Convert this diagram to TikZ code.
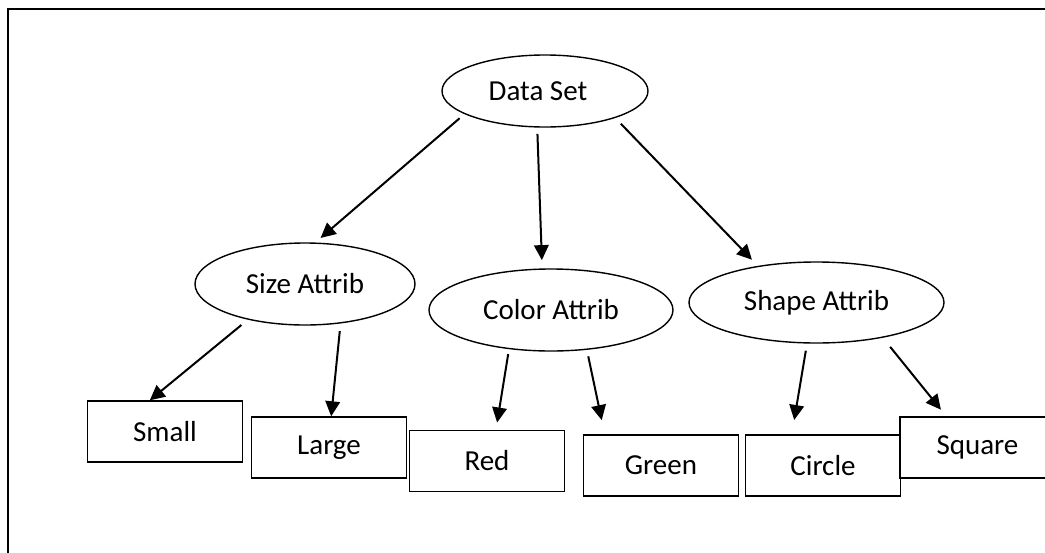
\documentclass[tikz,border=0pt]{standalone}
\usepackage{fontspec}
\setmainfont{Carlito}
\usetikzlibrary{shapes.geometric,arrows.meta}
\begin{document}
\begin{tikzpicture}[x=0.5pt,y=-0.5pt,
  every node/.style={font=\fontsize{14.5pt}{17pt}\selectfont, inner sep=0pt},
  attr/.style={ellipse, draw, line width=0.7pt},
  leaf/.style={rectangle, draw, line width=0.7pt, minimum width=77.5pt, minimum height=30.5pt},
  arr/.style={-{Triangle[length=7.5pt,width=7.3pt]}, line width=1pt},
]
\useasboundingbox (0,0) rectangle (1045,552);
\clip (0,0) rectangle (1045,552);
% frame running off the right and bottom edges
\draw[line width=1pt] (8,9) rectangle (1080,590);

% attribute ellipses
\node[attr, minimum width=103pt, minimum height=36pt] (ds) at (545,91) {Data Set\kern7pt};
\node[attr, minimum width=110pt, minimum height=41pt] (size) at (305,284) {Size Attrib};
\node[attr, minimum width=122pt, minimum height=41pt] (color) at (551,310) {Color Attrib};
\node[attr, minimum width=127.5pt, minimum height=40.5pt] (shapeattr) at (816.5,302.5) {Shape Attrib};

% value boxes
\node[leaf] (vsmall) at (165,431.5) {Small};
\node[leaf] (vlarge) at (329,447.5) {Large};
\node[leaf] (vred) at (487,461) {Red};
\node[leaf] (vgreen) at (661,465.5) {Green};
\node[leaf] (vcircle) at (823,465.5) {Circle};
\node[leaf] (vsquare) at (977.5,447.5) {Square};

% connectors
\draw[arr, shorten <=3.2pt, shorten >=3.45pt] (ds.196.4) -- (size.76.3);
\draw[arr, shorten <=3.1pt, shorten >=4.15pt] (ds.258.6) -- (color.102.7);
\draw[arr, shorten <=4pt, shorten >=4.25pt] (ds.339.6) -- (shapeattr.148.3);
\draw[arr, shorten <=4.15pt] (size.212.8) -- (vsmall.116.2);
\draw[arr, shorten <=3.8pt] (size.312.8) -- (vlarge.86.8);
\draw[arr, shorten <=2.5pt, shorten >=3.7pt] (color.223) -- (vred.74.25);
\draw[arr, shorten <=3.3pt, shorten >=7.25pt] (color.312.8) -- (vgreen.151.6);
\draw[arr, shorten <=3.6pt, shorten >=7.25pt] (shapeattr.257.5) -- (vcircle.135.6);
\draw[arr, shorten <=5.85pt, shorten >=4.25pt] (shapeattr.332.8) -- (vsquare.135.4);
\end{tikzpicture}
\end{document}
